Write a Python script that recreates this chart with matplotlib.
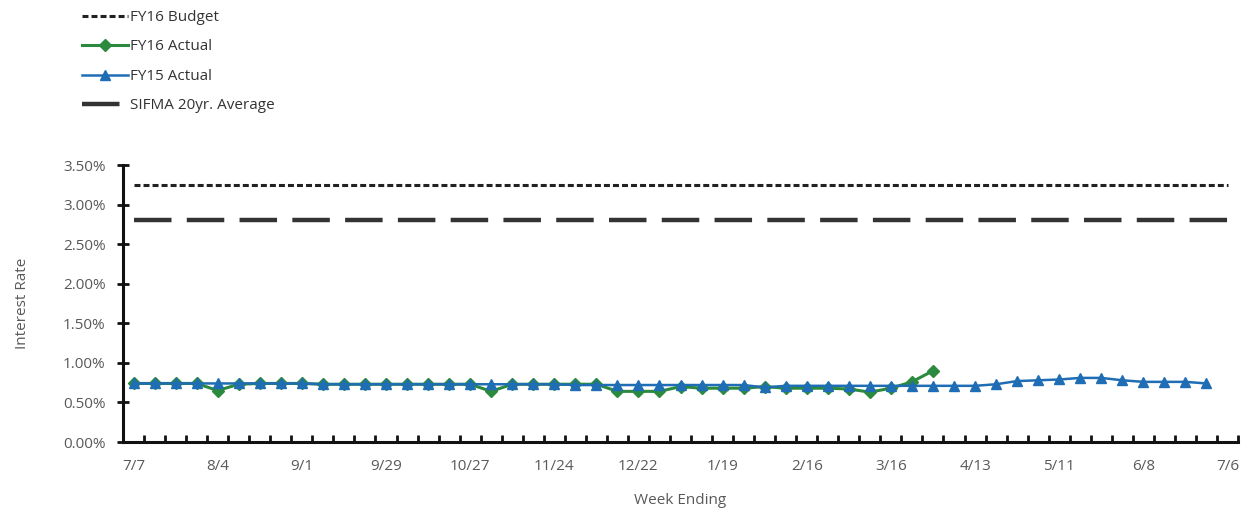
import matplotlib
matplotlib.use("Agg")
import matplotlib.pyplot as plt
from matplotlib.ticker import FuncFormatter, FixedLocator

plt.rcParams["font.family"] = ["Open Sans", "DejaVu Sans"]
plt.rcParams["lines.scale_dashes"] = False

# weekly categories, labelled every fourth week
week_labels = ["7/7", "8/4", "9/1", "9/29", "10/27", "11/24", "12/22",
               "1/19", "2/16", "3/16", "4/13", "5/11", "6/8", "7/6"]
n_weeks = 53

fy16_budget = 3.25
sifma_avg = 2.80

fy16_actual = [0.74, 0.74, 0.74, 0.74, 0.65, 0.73, 0.74, 0.74, 0.74, 0.73,
               0.73, 0.73, 0.73, 0.73, 0.73, 0.73, 0.73, 0.64, 0.73, 0.73,
               0.73, 0.73, 0.73, 0.64, 0.64, 0.64, 0.70, 0.68, 0.68, 0.68,
               0.70, 0.68, 0.68, 0.68, 0.67, 0.63, 0.68, 0.76, 0.90]

fy15_actual = [0.74, 0.74, 0.74, 0.74, 0.74, 0.74, 0.74, 0.74, 0.74, 0.73,
               0.73, 0.73, 0.73, 0.73, 0.73, 0.73, 0.73, 0.73, 0.73, 0.73,
               0.73, 0.72, 0.72, 0.72, 0.72, 0.72, 0.72, 0.72, 0.72, 0.72,
               0.69, 0.71, 0.71, 0.71, 0.71, 0.71, 0.71, 0.71, 0.71, 0.71,
               0.71, 0.73, 0.77, 0.78, 0.79, 0.81, 0.81, 0.78, 0.76, 0.76,
               0.76, 0.74]

green = "#2b8a3e"
blue = "#1f6db5"
grey = "#595959"

fig = plt.figure(figsize=(12.45, 5.09), dpi=100)
ax = fig.add_axes([0.0988, 0.1316, 0.8956, 0.5442])

x_all = list(range(n_weeks))
ax.plot(x_all, [fy16_budget] * n_weeks, color="#222222", lw=2.2,
        dashes=(4.3, 2.2), label="FY16 Budget", zorder=3)
ax.plot(range(len(fy16_actual)), fy16_actual, color=green, lw=2.2,
        marker="D", markersize=6, label="FY16 Actual", zorder=4)
ax.plot(range(len(fy15_actual)), fy15_actual, color=blue, lw=1.8,
        marker="^", markersize=7, label="FY15 Actual", zorder=5)
ax.plot(x_all, [sifma_avg] * n_weeks, color="#333333", lw=3.2,
        dashes=(27, 11), label="SIFMA 20yr. Average", zorder=3)

ax.set_xlim(-0.5, n_weeks - 0.5)
ax.set_ylim(0, 3.5)
ax.set_yticks([i * 0.5 for i in range(8)])
ax.yaxis.set_major_formatter(FuncFormatter(lambda v, p: "%.2f%%" % v))

ax.set_xticks(range(0, n_weeks, 4))
ax.set_xticklabels(week_labels)
ax.xaxis.set_minor_locator(FixedLocator([k + 0.5 for k in range(n_weeks)]))
ax.tick_params(axis="x", which="major", length=0, pad=12,
               labelsize=11, labelcolor=grey)
ax.tick_params(axis="x", which="minor", direction="in", length=5,
               width=2, color="#111111")
ax.tick_params(axis="y", direction="inout", length=9, width=2,
               color="#111111", labelsize=11, labelcolor=grey, pad=8)

for side in ("top", "right"):
    ax.spines[side].set_visible(False)
for side in ("left", "bottom"):
    ax.spines[side].set_linewidth(2.2)
    ax.spines[side].set_color("#111111")

ax.set_xlabel("Week Ending", fontsize=11, color=grey, labelpad=14)
ax.set_ylabel("Interest Rate", fontsize=11, color=grey, labelpad=24)

fig.legend(loc="upper left", bbox_to_anchor=(0.058, 1.0), frameon=False,
           fontsize=11, labelcolor="#333333", handlelength=3.0,
           handletextpad=0.15, labelspacing=0.95, numpoints=1,
           borderaxespad=0.25)

fig.savefig("out.png", dpi=100)
